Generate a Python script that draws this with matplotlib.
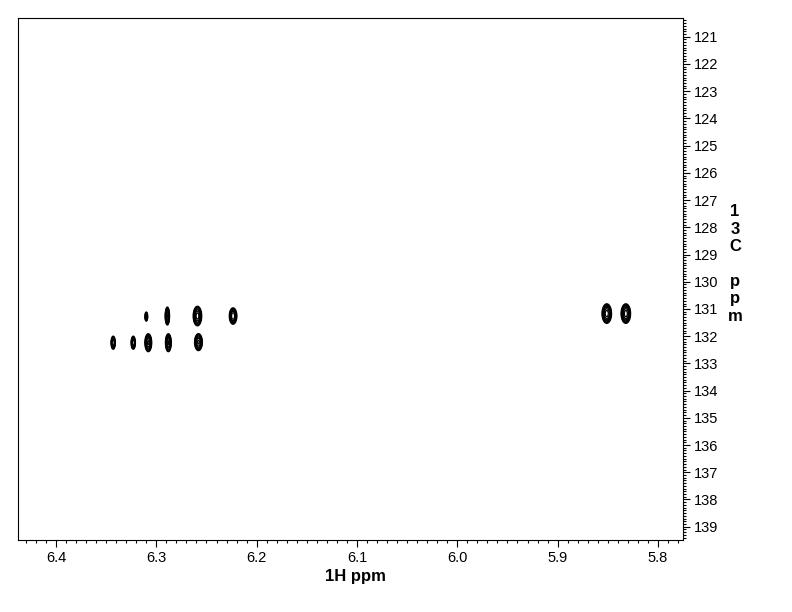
import numpy as np
import matplotlib
matplotlib.use('Agg')
import matplotlib.pyplot as plt
from matplotlib.ticker import MultipleLocator

plt.rcParams['font.family'] = ['Liberation Sans', 'DejaVu Sans']

# cross peaks: 1H shift, 13C shift, widths (ppm), relative intensity
h_shift = [6.310, 6.289, 6.259, 6.2235, 6.343, 6.323, 6.308, 6.288, 6.258, 5.851, 5.832]
c_shift = [131.28, 131.26, 131.26, 131.26, 132.24, 132.24, 132.24, 132.24, 132.22, 131.17, 131.17]
h_width = [0.0035, 0.0045, 0.0085, 0.0080, 0.0050, 0.0050, 0.0070, 0.0060, 0.0080, 0.0095, 0.0095]
c_width = [0.42, 0.68, 0.72, 0.64, 0.56, 0.56, 0.68, 0.68, 0.64, 0.72, 0.72]
intensity = [0.5, 0.9, 1.0, 0.8, 0.6, 0.6, 0.9, 0.9, 0.9, 1.0, 1.0]

x_range = (6.4379, 5.775)
y_range = (120.31, 139.49)

# build the 2D spectrum from gaussian peaks
x = np.linspace(5.775, 6.4379, 1600)
y = np.linspace(120.31, 139.49, 1600)
X, Y = np.meshgrid(x, y)
Z = np.zeros_like(X)
for h, c, hw, cw, a in zip(h_shift, c_shift, h_width, c_width, intensity):
    sx = hw / 4
    sy = cw / 4
    Z += a * np.exp(-((X - h) ** 2 / (2 * sx ** 2) + (Y - c) ** 2 / (2 * sy ** 2)))

levels = 0.135 * 1.35 ** np.arange(0, 8)

fig = plt.figure(figsize=(7.92, 6.12), dpi=100)
ax = fig.add_axes([0.0227, 0.1176, 0.8397, 0.853])
ax.contour(X, Y, Z, levels=levels, colors='black', linewidths=0.9)

ax.set_xlim(*x_range)
ax.set_ylim(y_range[1], y_range[0])

ax.xaxis.set_major_locator(MultipleLocator(0.1))
ax.xaxis.set_minor_locator(MultipleLocator(0.01))
ax.yaxis.set_major_locator(MultipleLocator(1))
ax.yaxis.set_minor_locator(MultipleLocator(0.1))
ax.yaxis.tick_right()
ax.tick_params(which='major', direction='out', length=5, width=0.8, labelsize=10.5, pad=3)
ax.tick_params(which='minor', direction='out', length=2.5, width=0.8)
ax.tick_params(axis='y', which='both', left=False, right=True)
ax.tick_params(axis='x', which='both', top=False)
ax.xaxis.set_major_formatter(plt.FuncFormatter(lambda v, p: f'{v:.1f}'))
ax.yaxis.set_major_formatter(plt.FuncFormatter(lambda v, p: f'{v:.0f}'))
for s in ax.spines.values():
    s.set_linewidth(0.8)

fig.text(355 / 792, 1 - 577 / 612, '1H ppm', ha='center', va='center', fontsize=12, fontweight='bold')
fig.text(735 / 792, 1 - 264 / 612, '1\n3\nC\n\np\np\nm', ha='center', va='center',
         fontsize=12, fontweight='bold', linespacing=1.2)

plt.savefig('out.png', dpi=100)
